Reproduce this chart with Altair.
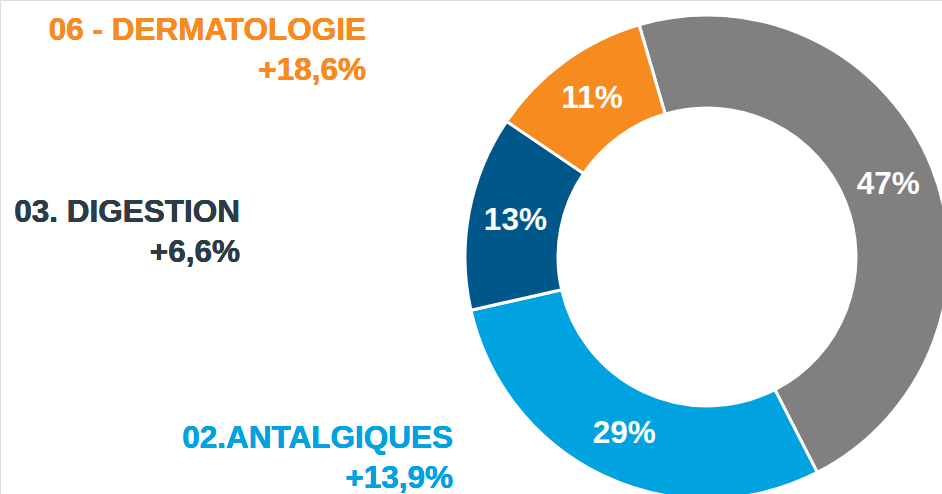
import altair as alt
import pandas as pd
import math

# Donut data (clockwise from the top-right)
categories = ["Autres", "02.ANTALGIQUES", "03. DIGESTION", "06 - DERMATOLOGIE"]
shares = [47, 29, 13, 11]
share_labels = ["47%", "29%", "13%", "11%"]
colors = ["#808080", "#00A3E0", "#00578A", "#F68B1F"]

# Side annotations
ann_names = ["06 - DERMATOLOGIE", "03. DIGESTION", "02.ANTALGIQUES"]
ann_growth = ["+18,6%", "+6,6%", "+13,9%"]
ann_colors = ["#F68B1F", "#2D3B46", "#00A3E0"]

df = pd.DataFrame({
    "cat": categories,
    "share": shares,
    "label": share_labels,
    "order": list(range(len(categories))),
})

FONT = "Liberation Sans"
FS = 31.5
start = -16.3 * math.pi / 180
theta_scale = alt.Scale(range=[start, start + 2 * math.pi])
color_scale = alt.Scale(domain=categories, range=colors)

cx, cy = 707, 257

base = alt.Chart(df).encode(
    theta=alt.Theta("share:Q", stack=True, scale=theta_scale),
    order=alt.Order("order:O"),
)

arcs = base.mark_arc(outerRadius=242, innerRadius=149, stroke="white", strokeWidth=3).encode(
    color=alt.Color("cat:N", scale=color_scale, legend=None),
    x=alt.value(cx),
    y=alt.value(cy),
)

pct = base.mark_text(radius=195, font=FONT, fontWeight="bold", fontSize=FS,
                     color="white", align="center", baseline="middle").encode(
    text="label:N",
    x=alt.value(cx),
    y=alt.value(cy),
)

layers = [arcs, pct]

# annotation placement (right edge x, baseline y of name line, baseline y of growth line)
ann_pos = [(366, 40, 80), (240, 222, 262), (453, 448, 488)]
for name, growth, col, (ax, y1, y2) in zip(ann_names, ann_growth, ann_colors, ann_pos):
    t1 = alt.Chart(df).mark_text(font=FONT, fontWeight="bold", fontSize=FS, color=col,
                                 align="right", baseline="alphabetic").encode(
        x=alt.value(ax), y=alt.value(y1), text=alt.value(name))
    t2 = alt.Chart(df).mark_text(font=FONT, fontWeight="bold", fontSize=FS, color=col,
                                 align="right", baseline="alphabetic").encode(
        x=alt.value(ax), y=alt.value(y2), text=alt.value(growth))
    layers += [t1, t2]

chart = alt.layer(*layers).properties(
    width=942, height=494,
    autosize=alt.AutoSizeParams(type="none"),
    padding=0,
).configure_view(stroke=None).configure(background="white")

chart.save("out.html", embed_options={"renderer": "svg", "actions": False})
